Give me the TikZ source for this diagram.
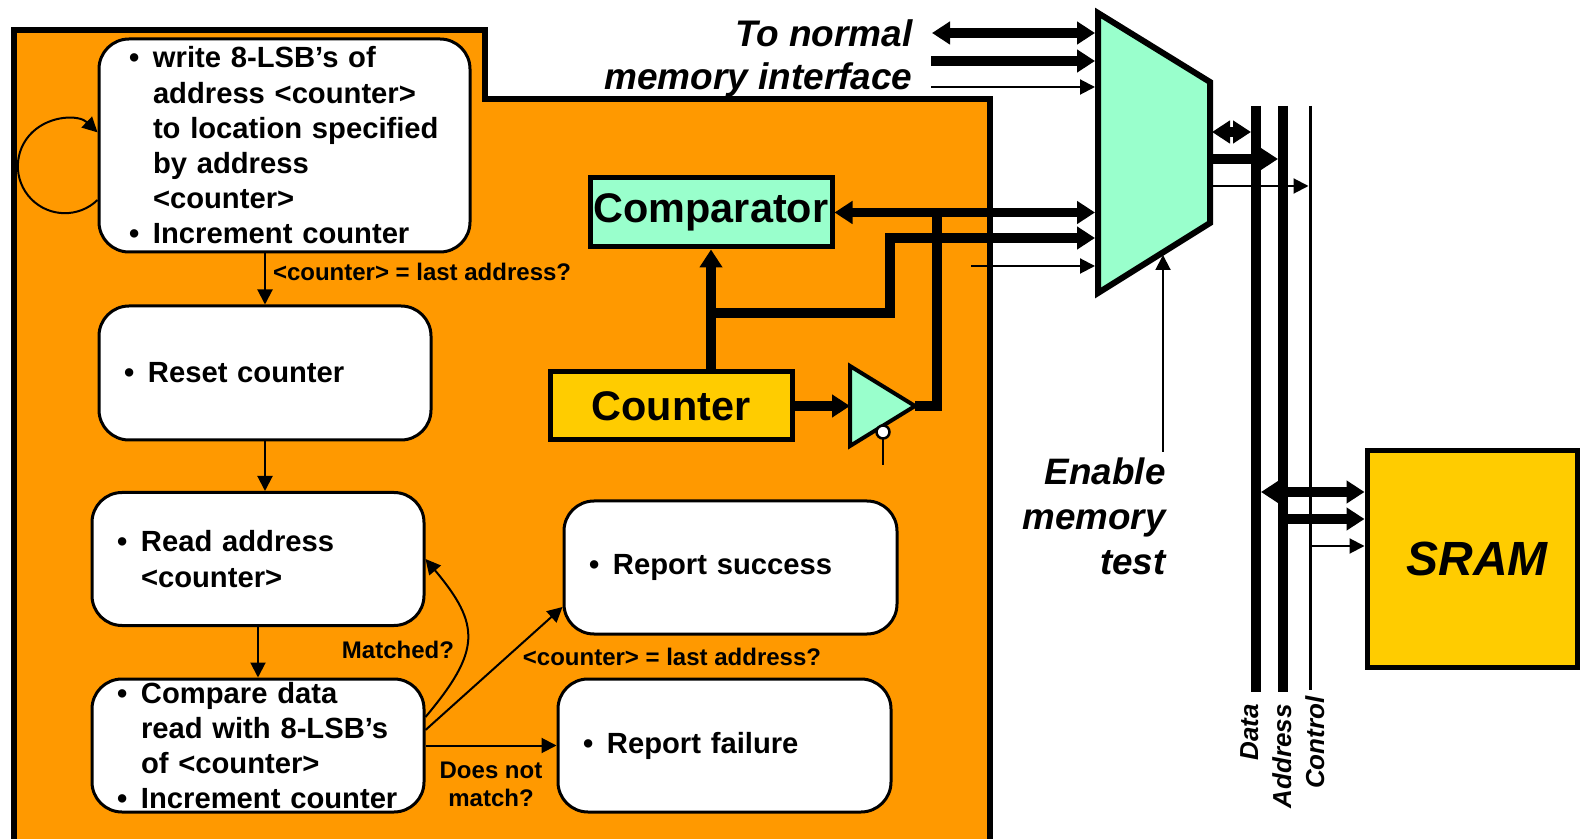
\documentclass[tikz,border=0pt]{standalone}
\usepackage{fontspec}
\setmainfont{Liberation Sans}
\usepackage{xcolor}
\usetikzlibrary{calc, shapes.geometric, arrows.meta, positioning}
\definecolor{panelorange}{HTML}{FF9900}
\definecolor{mint}{HTML}{99FFCC}
\definecolor{gold}{HTML}{FFCC00}
\newcommand{\itm}{\makebox[12pt][l]{\textbullet}}
\newcommand{\ind}{\hspace*{12pt}}

\begin{document}
\begin{tikzpicture}[
        x=0.5pt, y=0.5pt,
        stepbox/.style={draw, line width=1.5pt, fill=white, rounded corners=15pt,
                align=left, inner xsep=12.5pt, inner ysep=0pt, text width=141pt,
                minimum width=166pt, minimum height=66.5pt,
                font=\fontsize{14.6}{17.6}\selectfont\bfseries},
        unitbox/.style={draw, line width=2.5pt, inner sep=0pt,
                minimum width=121pt, minimum height=34pt,
                font=\fontsize{20.7}{24}\selectfont\bfseries},
        cond/.style={inner sep=0pt, font=\fontsize{12}{14}\selectfont\bfseries},
        note/.style={inner sep=0pt, align=right, font=\fontsize{18.5}{21.5}\selectfont\bfseries\itshape},
        buslabel/.style={rotate=90, anchor=base east, inner sep=0pt, font=\fontsize{13}{15}\selectfont\bfseries\itshape},
        flowarrow/.style={line width=1pt, -{Triangle[length=7.5pt, width=7.5pt]}},
        bus/.style={line width=4.75pt},
        busarrow/.style={bus, -{Triangle[length=9pt, width=11pt]}},
        busboth/.style={bus, {Triangle[length=9pt, width=11pt]}-{Triangle[length=9pt, width=11pt]}}
    ]
    \useasboundingbox (0,0) rectangle (1580,-839);

    \fill[panelorange] (14,-30) -- (485,-30) -- (485,-99) -- (990,-99) -- (990,-839) -- (14,-839) -- cycle;
    \draw[line width=2.75pt] (14,-839) -- (14,-30) -- (485,-30) -- (485,-99) -- (990,-99) -- (990,-839);

    \node[stepbox, inner xsep=15pt, text width=155.5pt, minimum width=185.5pt, minimum height=106.5pt] (write) at (284.5,-145.5)
        {\itm write 8-LSB’s of\\ \ind address <counter>\\ \ind to location specified\\ \ind by address\\ \ind <counter>\\ \itm Increment counter};
    \node[stepbox, minimum height=67pt] (reset) at (265,-373) {\itm Reset counter};
    \node[stepbox] (read) at (258,-559) {\itm Read address\\ \ind <counter>};
    \node[stepbox] (compare) at (258,-745.5)
        {\itm Compare data\\ \ind read with 8-LSB’s\\ \ind of <counter>\\ \itm Increment counter};
    \node[stepbox, text width=141.5pt, minimum width=166.5pt] (success) at (730.5,-567.5) {\itm Report success};
    \node[stepbox, text width=141.5pt, minimum width=166.5pt] (failure) at (724.5,-745.5) {\itm Report failure};

    \draw[flowarrow] ([yshift=-27.25pt]write.west) arc[start angle=-46, end angle=-314, radius=23.5pt];
    \draw[flowarrow] (write.south -| reset.north) -- (reset.north)
        node[cond, pos=0.37, right=3.5pt] {<counter> = last address?};
    \draw[flowarrow] (reset.south) -- (reset.south |- read.north);
    \draw[flowarrow] (read.south) -- (compare.north);
    \draw[flowarrow] ([yshift=14.25pt]compare.east) to[out=50, in=-50, looseness=1.4] (read.east);
    \node[cond] (matched) at (398,-650) {Matched?};
    \draw[flowarrow] ([yshift=7.75pt]compare.east) -- ([yshift=-19.75pt]success.west);
    \draw[flowarrow] (compare.east) -- (failure.west);
    \node[cond] (lastaddr) at (672,-657) {<counter> = last address?};
    \node[cond, align=center] (nomatch) at (491,-784) {Does not\\match?};

    \node[unitbox, fill=mint, minimum height=34.5pt] (comparator) at (711,-212.5) {Comparator};
    \node[unitbox, fill=gold] (counter) at (671,-406) {Counter};

    \coordinate (tri in) at (850,-406);
    \coordinate (tri out) at (915,-406);
    \draw[line width=2pt, fill=mint] (850,-366) -- (tri out) -- (850,-446) -- cycle;
    \draw[line width=1pt] (883,-438.5) -- (883,-465);
    \draw[line width=1.25pt, fill=white] (883,-432) circle[radius=3.25pt];

    \draw[line width=3pt, fill=mint] (1098,-13) -- (1210,-82) -- (1210,-223) -- (1098,-293) -- cycle;
    \coordinate (mux nd) at (1095,-33);
    \coordinate (mux na) at (1095,-61);
    \coordinate (mux nc) at (1095,-87);
    \coordinate (mux td) at (1095,-213);
    \coordinate (mux ta) at (1095,-238);
    \coordinate (mux tc) at (1095,-266);
    \coordinate (mux en) at (1163,-255);
    \coordinate (mux od) at (1212,-132);
    \coordinate (mux oa) at (1212,-159);
    \coordinate (mux oc) at (1212,-186);

    \coordinate (norm d) at (932,-33);
    \coordinate (norm a) at (931,-61);
    \coordinate (norm c) at (931,-87);
    \draw[busboth] (norm d) -- (mux nd);
    \draw[busarrow] (norm a) -- (mux na);
    \draw[flowarrow] (norm c) -- (mux nc);
    \node[note, anchor=north east] (normal) at (913,-19) {To normal\\memory interface};

    \draw[busboth] (comparator.east) -- (comparator.east -| mux td);
    \draw[busarrow] (comparator.south |- counter.north) -- (comparator.south);
    \draw[busarrow] (comparator.south |- 0,-313) -| (890,-238) -- (mux ta);
    \draw[busarrow] (counter.east) -- (tri in);
    \draw[bus] (tri out) -| (937,-210);
    \coordinate (test c) at (971,-266);
    \draw[flowarrow] (test c) -- (mux tc);

    \node[note, font=\fontsize{18.4}{22.5}\selectfont\bfseries\itshape, anchor=north east] (enable) at (1166,-457) {Enable\\memory\\test};
    \coordinate (en foot) at (1163,-452);
    \draw[flowarrow] (en foot) -- (mux en);

    \coordinate (data top) at (1256,-106);
    \coordinate (data bot) at (1256,-692);
    \coordinate (addr top) at (1283,-106);
    \coordinate (addr bot) at (1283,-692);
    \coordinate (ctrl top) at (1310,-106);
    \coordinate (ctrl bot) at (1310,-690);
    \draw[line width=5pt] (data top) -- (data bot);
    \draw[line width=5pt] (addr top) -- (addr bot);
    \draw[line width=1.5pt] (ctrl top) -- (ctrl bot);
    \node[buslabel] at (1258,-704) {Data};
    \node[buslabel] at (1291,-704) {Address};
    \node[buslabel] at (1324,-696) {Control};

    \draw[busboth, shorten >=2.5pt] (mux od) -- (mux od -| data top);
    \draw[busarrow, shorten >=2.5pt] (mux oa) -- (mux oa -| addr top);
    \draw[flowarrow, shorten >=0.75pt] (mux oc) -- (mux oc -| ctrl top);

    \node[unitbox, fill=gold, minimum width=105pt, minimum height=108pt,
        font=\fontsize{24}{28}\selectfont\bfseries\itshape] (sram) at (1472,-559) {\hspace*{5pt}SRAM};
    \draw[busboth, shorten <=2.5pt] (data top |- 0,-492) -- (sram.west |- 0,-492);
    \draw[busarrow] (addr top |- 0,-519) -- (sram.west |- 0,-519);
    \draw[flowarrow] (ctrl top |- 0,-546) -- (sram.west |- 0,-546);
\end{tikzpicture}
\end{document}
